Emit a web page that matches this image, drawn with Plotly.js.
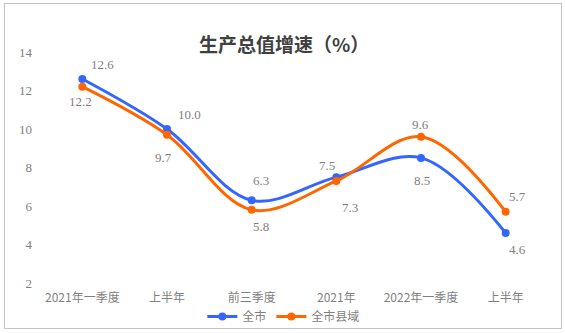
<!DOCTYPE html>
<html>
<head>
<meta charset="utf-8">
<script src="https://cdn.plot.ly/plotly-3.0.1.min.js"></script>
<style>
html,body{margin:0;padding:0;background:#fff;}
#wrap{position:relative;width:565px;height:333px;}
#chart{width:565px;height:333px;}
#frame{position:absolute;left:4px;top:3px;width:556px;height:324px;border:1px solid #c3c3c3;pointer-events:none;}
</style>
</head>
<body>
<div id="wrap"><div id="chart"></div><div id="frame"></div></div>
<script>
// ---- data ----
var categories = ['2021年一季度', '上半年', '前三季度', '2021年', '2022年一季度', '上半年'];
var cityValues = [12.6, 10.0, 6.3, 7.5, 8.5, 4.6];      // 全市
var countyValues = [12.2, 9.7, 5.8, 7.3, 9.6, 5.7];     // 全市县域
var seriesNames = ['全市', '全市县域'];
var yTicks = [2, 4, 6, 8, 10, 12, 14];

// ---- style ----
var blue = '#3366FF', orange = '#FF6600';
var labelColor = '#7f7f7f';
var serif = '"Liberation Serif", "Times New Roman", serif';
var cjk = '"Noto Sans CJK SC", "Noto Sans", sans-serif';
// label offsets in px (dx, dy up)
var cityShift = [[20, 14], [22, 15], [9, 20], [-9, 12], [1, -23], [12, -17]];
var countyShift = [[-2, -15], [-4, -23], [9, -17], [14, -27], [-1, 12], [12, 15]];

var xIdx = categories.map(function (c, i) { return i; });

var traces = [
  {x: xIdx, y: cityValues, name: seriesNames[0], type: 'scatter', mode: 'lines+markers',
   line: {color: blue, width: 3, shape: 'spline', smoothing: 1}, marker: {color: blue, size: 8}},
  {x: xIdx, y: countyValues, name: seriesNames[1], type: 'scatter', mode: 'lines+markers',
   line: {color: orange, width: 3, shape: 'spline', smoothing: 1}, marker: {color: orange, size: 8}}
];

var annotations = [];
function addLabels(vals, shifts) {
  vals.forEach(function (v, i) {
    annotations.push({x: xIdx[i], y: v, text: v.toFixed(1), showarrow: false,
      xshift: shifts[i][0], yshift: shifts[i][1],
      font: {family: serif, size: 13, color: labelColor}});
  });
}
addLabels(cityValues, cityShift);
addLabels(countyValues, countyShift);

var layout = {
  width: 565, height: 333,
  margin: {l: 40, r: 17, t: 52, b: 50, autoexpand: false},
  paper_bgcolor: '#fff', plot_bgcolor: '#fff',
  title: {text: '<b>生产总值增速（%）</b>', x: 0.503, xanchor: 'center', y: 0.865, yanchor: 'middle',
          font: {family: cjk, size: 19, color: '#404040'}},
  xaxis: {range: [-0.5, 5.5], tickvals: xIdx, ticktext: categories, showgrid: false, zeroline: false,
          showline: false, ticks: '', tickfont: {family: cjk, size: 12, color: labelColor},
          ticklabelstandoff: 6, fixedrange: true},
  yaxis: {range: [2, 14], tickvals: yTicks, showgrid: false, zeroline: false, showline: false, ticks: '',
          tickfont: {family: serif, size: 13, color: labelColor}, ticklabelstandoff: 7, fixedrange: true},
  showlegend: true,
  legend: {orientation: 'h', x: 0.48, xanchor: 'center', y: -0.145, yanchor: 'middle',
           font: {family: cjk, size: 12, color: labelColor}, itemwidth: 30, tracegroupgap: 0,
           bgcolor: 'rgba(0,0,0,0)'},
  annotations: annotations
};

Plotly.newPlot('chart', traces, layout, {displayModeBar: false, staticPlot: true});
</script>
</body>
</html>
